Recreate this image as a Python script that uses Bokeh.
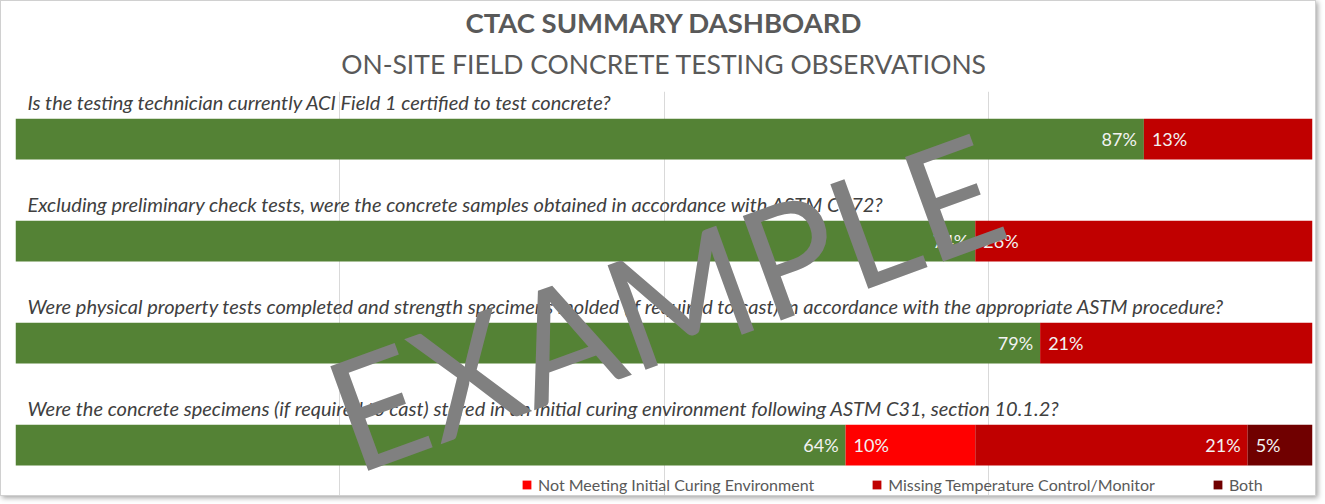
from bokeh.plotting import figure
from bokeh.models import Range1d, Legend, LegendItem, Label, Title, ColumnDataSource, FixedTicker
from bokeh.core.properties import value
from bokeh.embed import file_html
from bokeh.resources import INLINE

title_main = "CTAC SUMMARY DASHBOARD"
title_sub = "ON-SITE FIELD CONCRETE TESTING OBSERVATIONS"
questions = [
    "Is the testing technician currently ACI Field 1 certified to test concrete?",
    "Excluding preliminary check tests, were the concrete samples obtained in accordance with ASTM C172?",
    "Were physical property tests completed and strength specimens molded (if required to cast) in accordance with the appropriate ASTM procedure?",
    "Were the concrete specimens (if required to cast) stored in an initial curing environment following ASTM C31, section 10.1.2?",
]
rows = [0, 1, 2, 3]
yes_pct = [87, 74, 79, 64]
not_meeting_pct = [0, 0, 0, 10]
missing_temp_pct = [13, 26, 21, 21]
both_pct = [0, 0, 0, 5]
series_keys = ["yes", "not_meeting", "missing_temp", "both"]
series_names = ["Yes", "Not Meeting Initial Curing Environment",
                "Missing Temperature Control/Monitor", "Both"]
series_colors = ["#548235", "#FF0000", "#C00000", "#700000"]
watermark = "EXAMPLE"

FONT = "Lato"

src = ColumnDataSource(dict(row=rows, yes=yes_pct, not_meeting=not_meeting_pct,
                            missing_temp=missing_temp_pct, both=both_pct))

p = figure(width=1316, height=496, x_range=Range1d(0, 100),
           y_range=Range1d(3.514, -0.466), output_backend="svg",
           toolbar_location=None, min_border_left=14, min_border_right=5,
           min_border_bottom=0, min_border_top=90)
p.title.text = ""
p.outline_line_color = None
p.xaxis.visible = False
p.yaxis.visible = False
p.ygrid.visible = False
p.xgrid.ticker = FixedTicker(ticks=[0, 25, 50, 75, 100])
p.xgrid.grid_line_color = "#d9d9d9"
p.styles = {"border": "1px solid #d0d0d0", "box-shadow": "2px 2px 5px rgba(0,0,0,0.35)"}

renderers = p.hbar_stack(series_keys, y="row", height=0.4, color=series_colors,
                         line_color=None, source=src)

# data labels
series_vals = [yes_pct, not_meeting_pct, missing_temp_pct, both_pct]
rx, ry, rt, lx, ly, lt = [], [], [], [], [], []
for i, r in enumerate(rows):
    start = 0
    k = 0
    for vals in series_vals:
        v = vals[i]
        if v:
            if k % 2 == 0:
                rx.append(start + v); ry.append(r); rt.append(f"{v}%")
            else:
                lx.append(start); ly.append(r); lt.append(f"{v}%")
            k += 1
        start += v

lab_style = dict(text_font=value(FONT), text_font_size="18px", text_color="#f2f2f2",
                 text_baseline="middle")
p.text(x=rx, y=ry, text=rt, text_align="right", x_offset=-7, **lab_style)
p.text(x=lx, y=ly, text=lt, text_align="left", x_offset=8, **lab_style)

# question texts
p.text(x=[0] * len(rows), y=[r - 0.365 for r in rows], text=questions, x_offset=12,
       text_align="left", text_baseline="middle", text_font=value(FONT),
       text_font_style="italic", text_font_size="20px", text_color="#404040")

# legend
legend = Legend(items=[LegendItem(label=series_names[j], renderers=[renderers[j]])
                       for j in (1, 2, 3)],
                orientation="horizontal", location=(506, 3), spacing=57,
                glyph_width=11, glyph_height=11, label_standoff=6,
                label_text_font=FONT, label_text_font_size="16px",
                label_text_color="#595959", border_line_color=None,
                background_fill_alpha=0, padding=0, margin=0)
p.add_layout(legend)

# watermark
p.add_layout(Label(x=50, y=1.57, text=watermark, angle=20, angle_units="deg",
                   text_font=FONT, text_font_size="155px", text_color="#808080",
                   text_align="center", text_baseline="middle"))

# titles
p.add_layout(Title(text=title_sub, align="center", text_font=FONT, text_font_size="26.5px",
                   text_font_style="normal", text_color="#595959", standoff=24), "above")
p.add_layout(Title(text=title_main, align="center", text_font=FONT, text_font_size="27.5px",
                   text_font_style="bold", text_color="#595959", standoff=-10), "above")

open("out.html", "w").write(file_html(p, INLINE))
